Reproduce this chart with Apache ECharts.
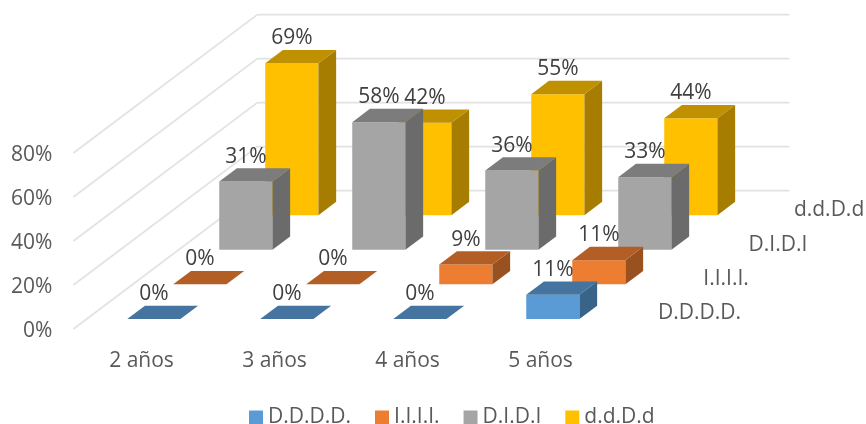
<!DOCTYPE html>
<html>
<head>
<meta charset="utf-8">
<style>html,body{margin:0;padding:0;background:#fff}#chart{width:866px;height:424px}</style>
<script src="https://cdn.jsdelivr.net/npm/echarts@6/dist/echarts.min.js"></script>
</head>
<body>
<div id="chart"></div>
<script>
// Chart content
const categories = ['2 años', '3 años', '4 años', '5 años'];
const seriesNames = ['D.D.D.D.', 'I.I.I.I.', 'D.I.D.I', 'd.d.D.d'];
const ddddValues = [0, 0, 0, 11];
const iiiiValues = [0, 0, 9, 11];
const didiValues = [31, 58, 36, 33];
const ddDdValues = [69, 42, 55, 44];
const wallTicks = [0, 20, 40, 60, 80];

// Shades for the three visible faces of each column
const frontColors = ['#5B9BD5', '#ED7D31', '#A5A5A5', '#FFC000'];
const topColors = ['#44749F', '#B25E25', '#7C7C7C', '#BF9000'];
const sideColors = ['#39648A', '#9A5120', '#6B6B6B', '#A67D00'];

// Oblique projection: screen shift for one row of depth
const DEPTH_DX = 46;
const DEPTH_DY = -34.6;
const ROW_NEAR = 0.29;
const ROW_FAR = 0.675;
const BAR_FRACTION = 0.4;
const WALL_SHIFT = -0.6;

const FONT_SIZE = 21;
const FONT = FONT_SIZE + 'px "Open Sans"';
const AXIS_TEXT = '#595959';
const LABEL_TEXT = '#404040';

function project(api, cat, value, depth, bandOffset) {
  const p = api.coord([cat, value]);
  const band = api.size([1, 0])[0];
  return [p[0] + bandOffset * band + depth * DEPTH_DX, p[1] + depth * DEPTH_DY];
}

function columnRenderer(rowIndex) {
  return function (params, api) {
    const cat = api.value(0);
    const val = api.value(1);
    const near = rowIndex + ROW_NEAR;
    const far = rowIndex + ROW_FAR;
    const h = BAR_FRACTION / 2;
    const fl = project(api, cat, val, near, -h);
    const fr = project(api, cat, val, near, h);
    const bl = project(api, cat, val, far, -h);
    const br = project(api, cat, val, far, h);
    const fl0 = project(api, cat, 0, near, -h);
    const fr0 = project(api, cat, 0, near, h);
    const br0 = project(api, cat, 0, far, h);
    const poly = (points, fill) => ({ type: 'polygon', shape: { points }, style: { fill } });
    return {
      type: 'group',
      children: [
        poly([fl0, fr0, fr, fl], frontColors[rowIndex]),
        poly([fr0, br0, br, fr], sideColors[rowIndex]),
        poly([fl, fr, br, bl], topColors[rowIndex]),
        {
          type: 'text',
          style: {
            text: val + '%',
            x: (fl[0] + fr[0]) / 2,
            y: fl[1] - 25,
            align: 'center',
            verticalAlign: 'middle',
            font: FONT,
            fill: LABEL_TEXT
          }
        }
      ]
    };
  };
}

// Side wall and back wall gridlines, each with its tick label at the front end
function wallRenderer(params, api) {
  const v = api.value(1);
  const last = categories.length - 1;
  const shift = ([x, y]) => [x + WALL_SHIFT, y];
  const a = shift(project(api, 0, v, 0, -0.5));
  const b = shift(project(api, 0, v, seriesNames.length, -0.5));
  const c = shift(project(api, last, v, seriesNames.length, 0.5));
  return {
    type: 'group',
    children: [
      {
        type: 'polyline',
        shape: { points: [a, b, c] },
        style: { fill: 'none', stroke: '#E2E2E2', lineWidth: 1.6 }
      },
      {
        type: 'text',
        style: {
          text: v + '%',
          x: a[0] - 21,
          y: a[1] + 2.5,
          align: 'right',
          verticalAlign: 'middle',
          font: FONT,
          fill: AXIS_TEXT
        }
      }
    ]
  };
}

// Row names along the right edge of the floor
function depthLabelRenderer(params, api) {
  const row = api.value(1);
  const last = categories.length - 1;
  const p = project(api, last, 0, row + 0.5, 0.5);
  return {
    type: 'text',
    style: {
      text: seriesNames[row],
      x: p[0] + 29 - row * 0.7,
      y: p[1] + 1.5 + row * 0.3,
      align: 'left',
      verticalAlign: 'middle',
      font: FONT,
      fill: AXIS_TEXT
    }
  };
}

const rows = [ddddValues, iiiiValues, didiValues, ddDdValues];

const chart = echarts.init(document.getElementById('chart'), null, { renderer: 'canvas' });
chart.setOption({
  animation: false,
  backgroundColor: '#fff',
  textStyle: { fontFamily: 'Open Sans' },
  legend: {
    left: 244,
    top: 402,
    itemWidth: 14,
    itemHeight: 14,
    itemGap: 24,
    icon: 'rect',
    data: seriesNames,
    textStyle: { fontSize: FONT_SIZE, fontFamily: 'Open Sans', color: AXIS_TEXT }
  },
  grid: { left: 74, width: 532, top: 153, height: 176, containLabel: false },
  xAxis: {
    type: 'category',
    data: categories,
    axisLine: { show: false },
    axisTick: { show: false },
    splitLine: { show: false },
    axisLabel: { fontSize: FONT_SIZE, fontFamily: 'Open Sans', color: AXIS_TEXT, margin: 22, padding: [0, 0, 0, 2] }
  },
  yAxis: {
    type: 'value',
    min: 0,
    max: 80,
    interval: 20,
    axisLine: { show: false },
    axisTick: { show: false },
    splitLine: { show: false },
    axisLabel: { show: false }
  },
  series: [
    {
      type: 'custom',
      silent: true,
      z: 1,
      renderItem: wallRenderer,
      data: wallTicks.map(v => [0, v]),
      clip: false
    },
    {
      type: 'custom',
      silent: true,
      z: 1,
      renderItem: depthLabelRenderer,
      data: seriesNames.map((n, i) => [categories.length - 1, i]),
      clip: false
    }
  ].concat(rows.map((values, i) => ({
    type: 'custom',
    name: seriesNames[i],
    z: 10 - i,
    itemStyle: { color: frontColors[i] },
    renderItem: columnRenderer(i),
    data: values.map((v, c) => [c, v]),
    clip: false
  })))
});
</script>
</body>
</html>
